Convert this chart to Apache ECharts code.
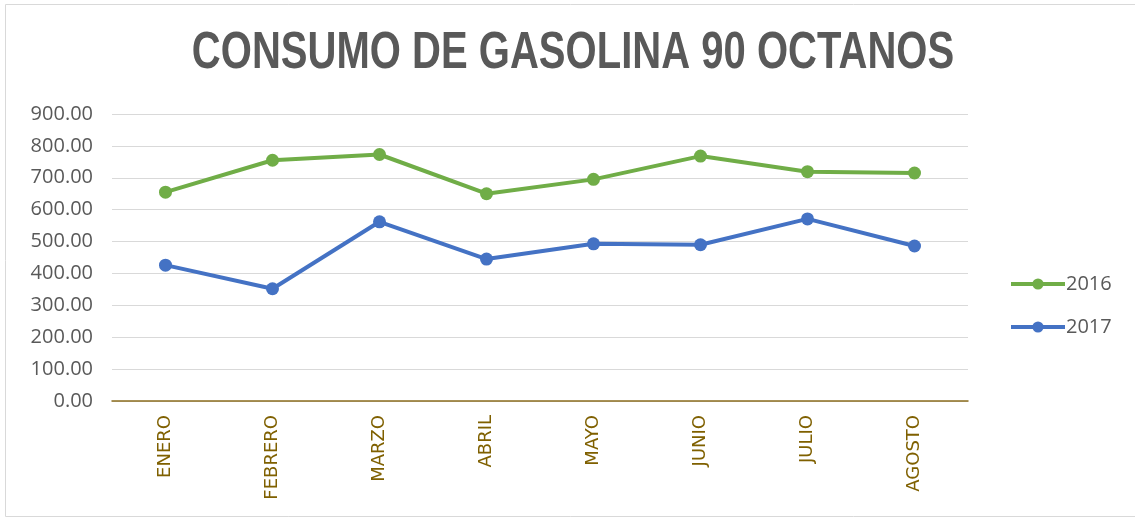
<!DOCTYPE html>
<html>
<head>
<meta charset="utf-8">
<script src="https://cdn.jsdelivr.net/npm/echarts@6/dist/echarts.min.js"></script>
<style>
    html, body { margin: 0; padding: 0; background: #fff; }
    #chart { width: 1135px; height: 519px; }
</style>
</head>
<body>
<div id="chart"></div>
<script>
let meses = ['ENERO', 'FEBRERO', 'MARZO', 'ABRIL', 'MAYO', 'JUNIO', 'JULIO', 'AGOSTO'];
let consumo2016 = [655, 755, 773, 650, 695, 768, 719, 715];
let consumo2017 = [426, 352, 562, 445, 493, 490, 571, 486];
let series2016Name = '2016';
let series2017Name = '2017';
let titulo = 'CONSUMO DE GASOLINA 90 OCTANOS';

let myChart = echarts.init(document.getElementById('chart'));

let option = {
    animation: false,
    legend: {
        orient: 'vertical',
        left: 1004,
        top: 269,
        itemGap: 23,
        itemWidth: 54,
        itemHeight: 14,
        lineStyle: { width: 4 },
        textStyle: { fontFamily: '"Open Sans", sans-serif', fontSize: 20, color: '#595959', padding: [0, 0, 0, -4] },
        data: [series2016Name, series2017Name]
    },
    grid: {
        left: 112,
        right: 167,
        top: 114,
        bottom: 118,
        containLabel: false
    },
    xAxis: {
        type: 'category',
        data: meses,
        axisLine: { lineStyle: { color: '#8C6D1F', width: 1.5 } },
        axisTick: { show: false },
        axisLabel: {
            rotate: 90,
            margin: 14,
            color: '#7F6000',
            fontSize: 18,
            fontFamily: '"DejaVu Sans", sans-serif'
        }
    },
    yAxis: {
        type: 'value',
        min: 0,
        max: 900,
        interval: 100,
        axisLine: { show: false },
        axisTick: { show: false },
        axisLabel: {
            margin: 19,
            color: '#595959',
            fontSize: 20,
            fontFamily: '"Open Sans", sans-serif',
            formatter: v => v.toFixed(2)
        },
        splitLine: { lineStyle: { color: '#d9d9d9', width: 1 } }
    },
    series: [
        {
            name: series2016Name,
            type: 'line',
            data: consumo2016,
            symbol: 'circle',
            symbolSize: 13,
            lineStyle: { width: 4, color: '#70AD47' },
            itemStyle: { color: '#70AD47' }
        },
        {
            name: series2017Name,
            type: 'line',
            data: consumo2017,
            symbol: 'circle',
            symbolSize: 13,
            lineStyle: { width: 4, color: '#4472C4' },
            itemStyle: { color: '#4472C4' }
        }
    ],
    graphic: [
        {
            // titulo estrecho (Arial Narrow no existe, se comprime Liberation Sans)
            type: 'text',
            x: 573,
            y: 54,
            scaleX: 0.77,
            style: {
                text: titulo,
                align: 'center',
                verticalAlign: 'middle',
                fontFamily: '"Liberation Sans", Arial, sans-serif',
                fontWeight: 'bold',
                fontSize: 52,
                fill: '#595959'
            }
        },
        {
            type: 'rect',
            shape: { x: 5.5, y: 4.5, width: 1140, height: 512 },
            style: { fill: 'none', stroke: '#d9d9d9', lineWidth: 1 },
            silent: true
        }
    ]
};

myChart.setOption(option);
</script>
</body>
</html>
